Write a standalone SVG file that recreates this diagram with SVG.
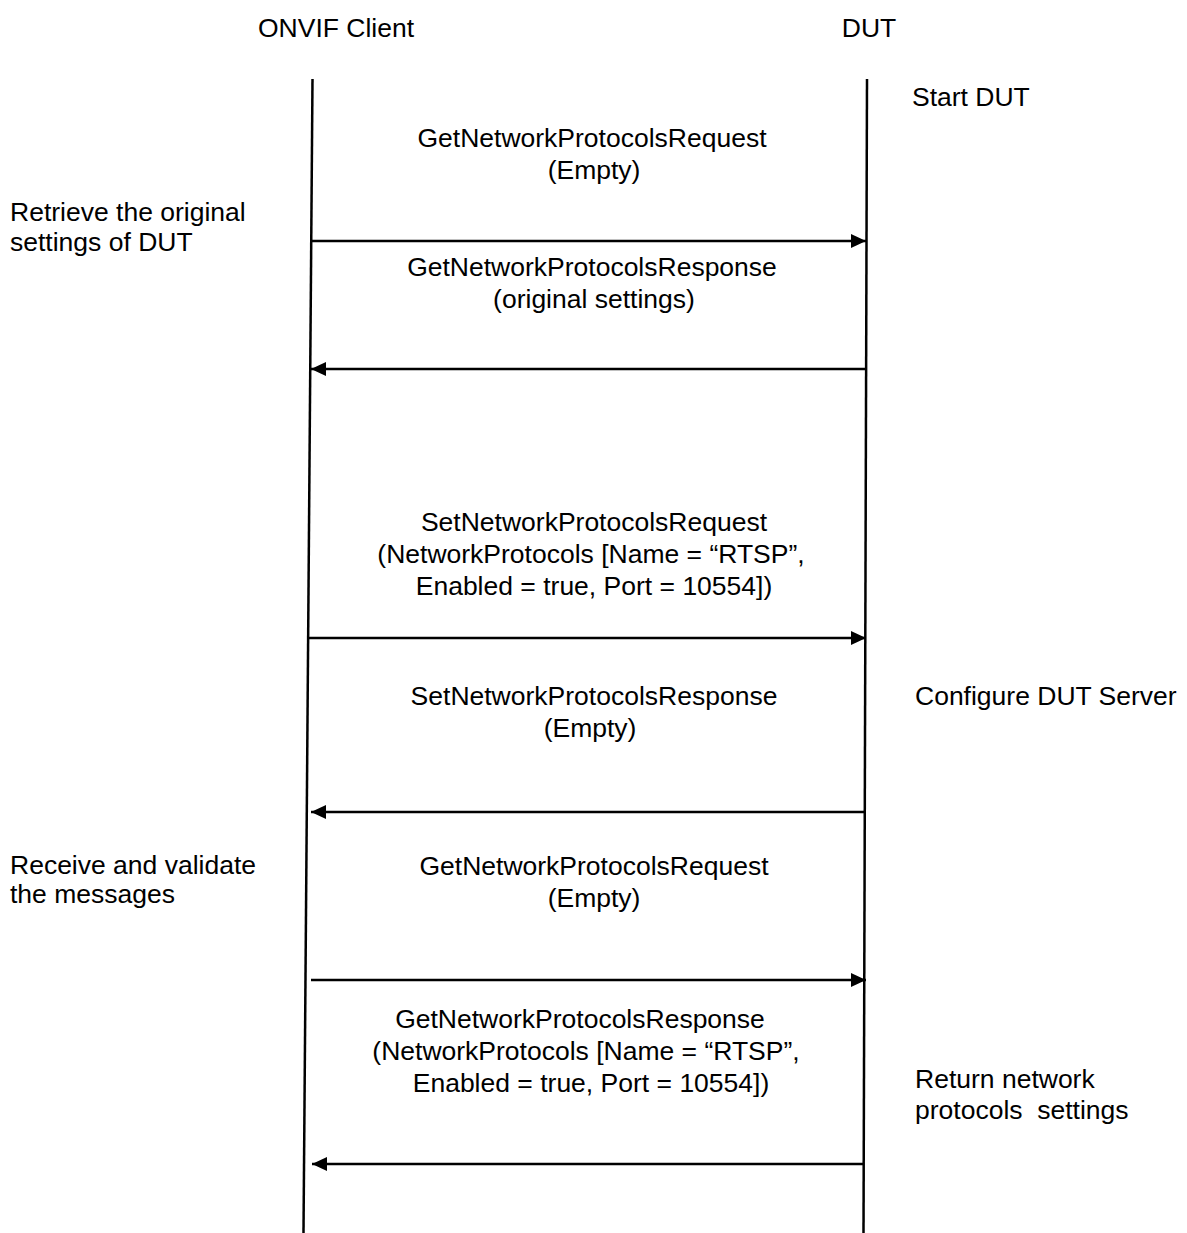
<svg xmlns="http://www.w3.org/2000/svg" width="1187" height="1233" viewBox="0 0 1187 1233">
  <style>
    text { font-family: "Liberation Sans", Arial, sans-serif; font-size: 26.5px; fill: #000; }
    .c { text-anchor: middle; }
    .life { stroke: #000; stroke-width: 2.5; fill: none; }
    .msg { stroke: #000; stroke-width: 2.5; fill: none; marker-end: url(#arrow); }
  </style>
  <defs>
    <marker id="arrow" markerUnits="userSpaceOnUse" markerWidth="18" markerHeight="16" refX="15" refY="7" orient="auto">
      <path d="M0,0 L15,7 L0,14 Z" fill="#000"/>
    </marker>
  </defs>

  <!-- participants -->
  <g id="client">
    <text x="336" y="37" class="c">ONVIF Client</text>
    <line class="life" x1="312.5" y1="79" x2="303.5" y2="1233"/>
  </g>
  <g id="dut">
    <text x="869" y="37" class="c">DUT</text>
    <line class="life" x1="867" y1="79" x2="863.5" y2="1233"/>
  </g>

  <!-- side notes -->
  <g id="note-start"><text x="912" y="106">Start DUT</text></g>
  <g id="note-retrieve">
    <text x="10" y="221">Retrieve the original</text>
    <text x="10" y="251">settings of DUT</text>
  </g>
  <g id="note-configure"><text x="915" y="705">Configure DUT Server</text></g>
  <g id="note-receive">
    <text x="10" y="874">Receive and validate</text>
    <text x="10" y="903">the messages</text>
  </g>
  <g id="note-return">
    <text x="915" y="1088">Return network</text>
    <text x="915" y="1119" xml:space="preserve">protocols  settings</text>
  </g>

  <!-- message labels -->
  <g id="m1">
    <text x="592" y="147" class="c">GetNetworkProtocolsRequest</text>
    <text x="594" y="179" class="c">(Empty)</text>
  </g>
  <g id="m2">
    <text x="592" y="276" class="c">GetNetworkProtocolsResponse</text>
    <text x="594" y="308" class="c">(original settings)</text>
  </g>
  <g id="m3">
    <text x="594" y="531" class="c">SetNetworkProtocolsRequest</text>
    <text x="591" y="563" class="c">(NetworkProtocols [Name = “RTSP”,</text>
    <text x="594" y="595" class="c">Enabled = true, Port = 10554])</text>
  </g>
  <g id="m4">
    <text x="594" y="705" class="c">SetNetworkProtocolsResponse</text>
    <text x="590" y="737" class="c">(Empty)</text>
  </g>
  <g id="m5">
    <text x="594" y="875" class="c">GetNetworkProtocolsRequest</text>
    <text x="594" y="907" class="c">(Empty)</text>
  </g>
  <g id="m6">
    <text x="580" y="1028" class="c">GetNetworkProtocolsResponse</text>
    <text x="586" y="1060" class="c">(NetworkProtocols [Name = “RTSP”,</text>
    <text x="591" y="1092" class="c">Enabled = true, Port = 10554])</text>
  </g>

  <!-- connectors -->
  <g id="connectors">
    <line class="msg" x1="311" y1="241" x2="866" y2="241"/>
    <line class="msg" x1="866" y1="369" x2="311" y2="369"/>
    <line class="msg" x1="308" y1="638" x2="866" y2="638"/>
    <line class="msg" x1="865" y1="812" x2="311" y2="812"/>
    <line class="msg" x1="311" y1="980" x2="866" y2="980"/>
    <line class="msg" x1="864" y1="1164" x2="312" y2="1164"/>
  </g>
</svg>
